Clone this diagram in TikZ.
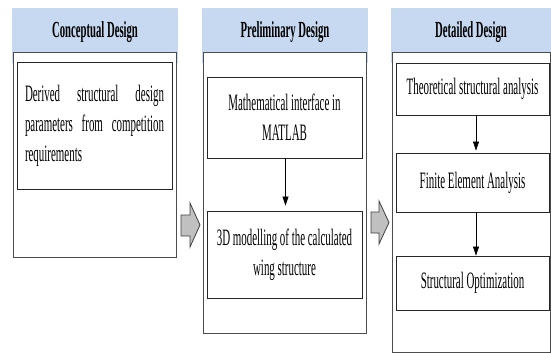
\documentclass[tikz,border=0pt]{standalone}
\usepackage{fontspec}
\usetikzlibrary{arrows.meta}
\newfontfamily\cfont[FakeStretch=0.465]{Liberation Serif}
\definecolor{hdr}{RGB}{198,217,241}
\definecolor{arrfill}{RGB}{192,192,192}
\begin{document}
\begin{tikzpicture}[x=1pt,y=-1pt,
  hdrbox/.style={fill=hdr, draw=none, inner sep=0pt},
  hdrtext/.style={inner sep=0pt, font=\cfont\bfseries\fontsize{23}{26}\selectfont},
  outerbox/.style={draw=black!70, fill=white, line width=0.8pt, inner sep=0pt},
  innerbox/.style={draw=black!85, line width=0.9pt, inner sep=0pt, align=center,
    font=\cfont\fontsize{23.5}{30}\selectfont},
  flow/.style={draw=black, line width=0.6pt, -{Triangle[length=9pt,width=6pt]}},
  blockarrow/.style={draw=black!75, fill=arrfill, line width=0.8pt, line join=miter}
]
\useasboundingbox (0,0) rectangle (551,354);

% headers
\node[hdrbox, minimum width=166, minimum height=55] (h1) at (95,35.5) {};
\node[hdrbox, minimum width=166, minimum height=55] (h2) at (285,35.5) {};
\node[hdrbox, minimum width=160, minimum height=55] (h3) at (471,35.5) {};

% outer boxes
\node[outerbox, minimum width=163, minimum height=205] (o1) at (94.5,154.5) {};
\node[outerbox, minimum width=163, minimum height=281] (o2) at (284.5,192.5) {};
\node[outerbox, minimum width=158, minimum height=300] (o3) at (471,202) {};

% header texts
\node[hdrtext] (t1) at (95,32) {Conceptual Design};
\node[hdrtext] (t2) at (285,32) {Preliminary Design};
\node[hdrtext] (t3) at (471,32) {Detailed Design};

% column 1
\node[innerbox, minimum width=155, minimum height=127, text width=139, align=justify] (c1) at (94.5,125.5)
  {Derived structural design\linebreak parameters from competition\linebreak requirements};

% column 2
\node[innerbox, minimum width=155, minimum height=81] (p1) at (284.5,117.5)
  {Mathematical interface in\\MATLAB};
\node[innerbox, minimum width=155, minimum height=87] (p2) at (284.5,254.5)
  {3D modelling of the calculated\\wing structure};
\draw[flow, shorten >=5pt] ([xshift=1pt]p1.south) -- ([xshift=1pt]p2.north);

% column 3
\node[innerbox, minimum width=153, minimum height=52] (d1) at (472.5,89) {Theoretical structural analysis};
\node[innerbox, minimum width=153, minimum height=59] (d2) at (472.5,182.5) {Finite Element Analysis};
\node[innerbox, minimum width=153, minimum height=54] (d3) at (472.5,283) {Structural Optimization};
\draw[flow, shorten >=2pt] ([xshift=3.5pt]d1.south) -- ([xshift=3.5pt]d2.north);
\draw[flow] ([xshift=3.5pt]d2.south) -- ([xshift=3.5pt]d3.north);

% block arrows
\draw[blockarrow] (181,215) -- (190,215) -- (190,203) -- (200,225) -- (190,247) -- (190,236) -- (181,236) -- cycle;
\draw[blockarrow] (371,212) -- (379,212) -- (379,201) -- (389,222.5) -- (379,244) -- (379,233) -- (371,233) -- cycle;
\end{tikzpicture}
\end{document}
